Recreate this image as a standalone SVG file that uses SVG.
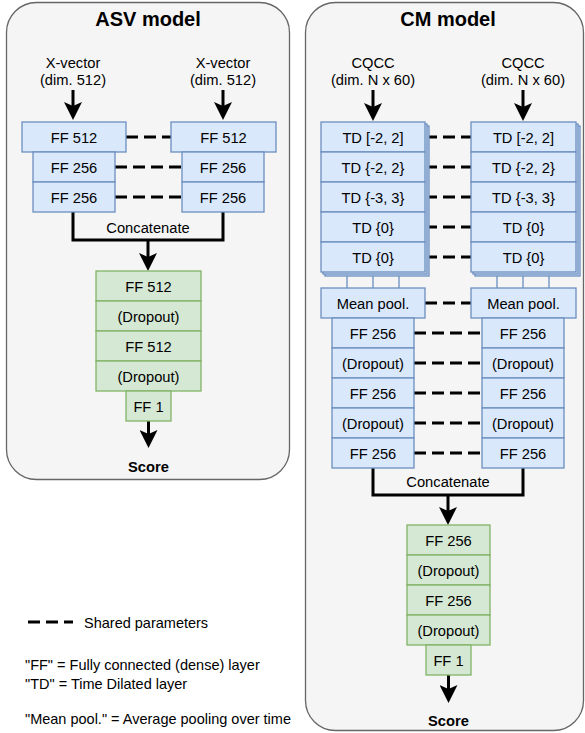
<svg xmlns="http://www.w3.org/2000/svg" width="585" height="733" viewBox="0 0 585 733">
<style>
text{font-family:"Liberation Sans",Arial,Helvetica,sans-serif;font-size:14.7px;fill:#000;text-anchor:middle}
.title{font-size:20px;font-weight:bold}
.bold{font-weight:bold}
.leg{text-anchor:start;font-size:14.5px}
.cont{fill:#f5f5f5;stroke:#666;stroke-width:1.3}
.blue{fill:#dae8fc;stroke:#6c8ebf;stroke-width:1.3}
.green{fill:#d5e8d4;stroke:#82b366;stroke-width:1.3}
.thin{stroke:#6c8ebf;stroke-width:1.3;fill:none}
.dash{stroke:#000;stroke-width:3;stroke-dasharray:12 6;fill:none}
.line{stroke:#000;stroke-width:3;fill:none}
.arr{stroke:#000;stroke-width:3;fill:none;marker-end:url(#ah)}
</style>
<defs>
<marker id="ah" markerUnits="userSpaceOnUse" viewBox="0 0 18 18" markerWidth="18" markerHeight="18" refX="4" refY="9" orient="auto">
<path d="M0,0 L18,9 L0,18 L4,9 Z" fill="#000"/>
</marker>
</defs>

<g id="asv-container">
<rect class="cont" x="6.5" y="2.5" width="283" height="477" rx="30"/>
<text class="title" x="148" y="26">ASV model</text>
</g>
<g id="cm-container">
<rect class="cont" x="305.5" y="2.5" width="278" height="728" rx="30"/>
<text class="title" x="448" y="26">CM model</text>
</g>

<g id="connectors">
<!-- ASV inputs -->
<line class="arr" x1="73" y1="90" x2="73" y2="106"/>
<line class="arr" x1="223" y1="90" x2="223" y2="106"/>
<!-- ASV shared -->
<line class="dash" x1="126" y1="137" x2="171" y2="137"/>
<line class="dash" x1="115" y1="167" x2="182" y2="167"/>
<line class="dash" x1="115" y1="197" x2="182" y2="197"/>
<!-- ASV concat -->
<path class="line" d="M73,212 V240 H223 V212"/>
<line class="arr" x1="148" y1="240" x2="148" y2="257"/>
<line class="arr" x1="148.5" y1="421" x2="148.5" y2="434"/>
<!-- CM inputs -->
<line class="arr" x1="373" y1="90" x2="373" y2="107"/>
<line class="arr" x1="523" y1="90" x2="523" y2="107"/>
<!-- CM stack to mean pool -->
<path class="thin" d="M347,276 V288 M373,276 V288 M399,276 V288 M497,276 V288 M523,276 V288 M549,276 V288"/>
<!-- CM shared -->
<line class="dash" x1="425" y1="137" x2="471" y2="137"/>
<line class="dash" x1="425" y1="167" x2="471" y2="167"/>
<line class="dash" x1="425" y1="197" x2="471" y2="197"/>
<line class="dash" x1="425" y1="227" x2="471" y2="227"/>
<line class="dash" x1="425" y1="257" x2="471" y2="257"/>
<line class="dash" x1="425" y1="303" x2="471" y2="303"/>
<line class="dash" x1="414" y1="333" x2="482" y2="333"/>
<line class="dash" x1="414" y1="363" x2="482" y2="363"/>
<line class="dash" x1="414" y1="393" x2="482" y2="393"/>
<line class="dash" x1="414" y1="423" x2="482" y2="423"/>
<line class="dash" x1="414" y1="453" x2="482" y2="453"/>
<!-- CM concat -->
<path class="line" d="M373,468 V495 H523 V468"/>
<line class="arr" x1="448" y1="495" x2="448" y2="511"/>
<line class="arr" x1="448.5" y1="675" x2="448.5" y2="689"/>
<!-- legend -->
<line class="dash" x1="28" y1="622" x2="73" y2="622"/>
</g>

<g id="asv-inputs">
<text x="73" y="68">X-vector</text><text x="73" y="85">(dim. 512)</text>
<text x="223" y="68">X-vector</text><text x="223" y="85">(dim. 512)</text>
</g>

<g id="asv-left">
<rect class="blue" x="22" y="122" width="104" height="30"/><text x="74" y="143">FF 512</text>
<rect class="blue" x="33" y="152" width="82" height="30"/><text x="74" y="173">FF 256</text>
<rect class="blue" x="33" y="182" width="82" height="30"/><text x="74" y="203">FF 256</text>
</g>
<g id="asv-right">
<rect class="blue" x="171" y="122" width="105" height="30"/><text x="223.5" y="143">FF 512</text>
<rect class="blue" x="182" y="152" width="82" height="30"/><text x="223" y="173">FF 256</text>
<rect class="blue" x="182" y="182" width="82" height="30"/><text x="223" y="203">FF 256</text>
</g>
<g id="asv-concat-label"><text x="148" y="233">Concatenate</text></g>
<g id="asv-head">
<rect class="green" x="96" y="271" width="105" height="30"/><text x="148.5" y="292">FF 512</text>
<rect class="green" x="96" y="301" width="105" height="30"/><text x="148.5" y="322">(Dropout)</text>
<rect class="green" x="96" y="331" width="105" height="30"/><text x="148.5" y="352">FF 512</text>
<rect class="green" x="96" y="361" width="105" height="30"/><text x="148.5" y="382">(Dropout)</text>
<rect class="green" x="126" y="391" width="45" height="30"/><text x="148.5" y="412">FF 1</text>
</g>
<g id="asv-score"><text class="bold" x="148.5" y="472">Score</text></g>

<g id="cm-inputs">
<text x="373" y="68">CQCC</text><text x="373" y="85">(dim. N x 60)</text>
<text x="523" y="68">CQCC</text><text x="523" y="85">(dim. N x 60)</text>
</g>

<g id="cm-left-td">
<rect class="blue" x="325" y="126" width="104" height="150"/>
<rect class="blue" x="323" y="124" width="104" height="150"/>
<rect class="blue" x="321" y="122" width="104" height="30"/><text x="373" y="143">TD [-2, 2]</text>
<rect class="blue" x="321" y="152" width="104" height="30"/><text x="373" y="173">TD {-2, 2}</text>
<rect class="blue" x="321" y="182" width="104" height="30"/><text x="373" y="203">TD {-3, 3}</text>
<rect class="blue" x="321" y="212" width="104" height="30"/><text x="373" y="233">TD {0}</text>
<rect class="blue" x="321" y="242" width="104" height="30"/><text x="373" y="263">TD {0}</text>
</g>
<g id="cm-right-td">
<rect class="blue" x="475" y="126" width="105" height="150"/>
<rect class="blue" x="473" y="124" width="105" height="150"/>
<rect class="blue" x="471" y="122" width="105" height="30"/><text x="523.5" y="143">TD [-2, 2]</text>
<rect class="blue" x="471" y="152" width="105" height="30"/><text x="523.5" y="173">TD {-2, 2}</text>
<rect class="blue" x="471" y="182" width="105" height="30"/><text x="523.5" y="203">TD {-3, 3}</text>
<rect class="blue" x="471" y="212" width="105" height="30"/><text x="523.5" y="233">TD {0}</text>
<rect class="blue" x="471" y="242" width="105" height="30"/><text x="523.5" y="263">TD {0}</text>
</g>
<g id="cm-left-ff">
<rect class="blue" x="321" y="288" width="104" height="30"/><text x="373" y="309">Mean pool.</text>
<rect class="blue" x="332" y="318" width="82" height="30"/><text x="373" y="339">FF 256</text>
<rect class="blue" x="332" y="348" width="82" height="30"/><text x="373" y="369">(Dropout)</text>
<rect class="blue" x="332" y="378" width="82" height="30"/><text x="373" y="399">FF 256</text>
<rect class="blue" x="332" y="408" width="82" height="30"/><text x="373" y="429">(Dropout)</text>
<rect class="blue" x="332" y="438" width="82" height="30"/><text x="373" y="459">FF 256</text>
</g>
<g id="cm-right-ff">
<rect class="blue" x="471" y="288" width="105" height="30"/><text x="523.5" y="309">Mean pool.</text>
<rect class="blue" x="482" y="318" width="82" height="30"/><text x="523" y="339">FF 256</text>
<rect class="blue" x="482" y="348" width="82" height="30"/><text x="523" y="369">(Dropout)</text>
<rect class="blue" x="482" y="378" width="82" height="30"/><text x="523" y="399">FF 256</text>
<rect class="blue" x="482" y="408" width="82" height="30"/><text x="523" y="429">(Dropout)</text>
<rect class="blue" x="482" y="438" width="82" height="30"/><text x="523" y="459">FF 256</text>
</g>
<g id="cm-concat-label"><text x="448" y="487">Concatenate</text></g>
<g id="cm-head">
<rect class="green" x="407" y="525" width="83" height="30"/><text x="448.5" y="546">FF 256</text>
<rect class="green" x="407" y="555" width="83" height="30"/><text x="448.5" y="576">(Dropout)</text>
<rect class="green" x="407" y="585" width="83" height="30"/><text x="448.5" y="606">FF 256</text>
<rect class="green" x="407" y="615" width="83" height="30"/><text x="448.5" y="636">(Dropout)</text>
<rect class="green" x="426" y="645" width="45" height="30"/><text x="448.5" y="666">FF 1</text>
</g>
<g id="cm-score"><text class="bold" x="448.5" y="726">Score</text></g>

<g id="legend">
<text class="leg" x="84" y="628">Shared parameters</text>
<text class="leg" x="25" y="670">"FF" = Fully connected (dense) layer</text>
<text class="leg" x="25" y="689">"TD" = Time Dilated layer</text>
<text class="leg" x="25" y="724">"Mean pool." = Average pooling over time</text>
</g>
</svg>
